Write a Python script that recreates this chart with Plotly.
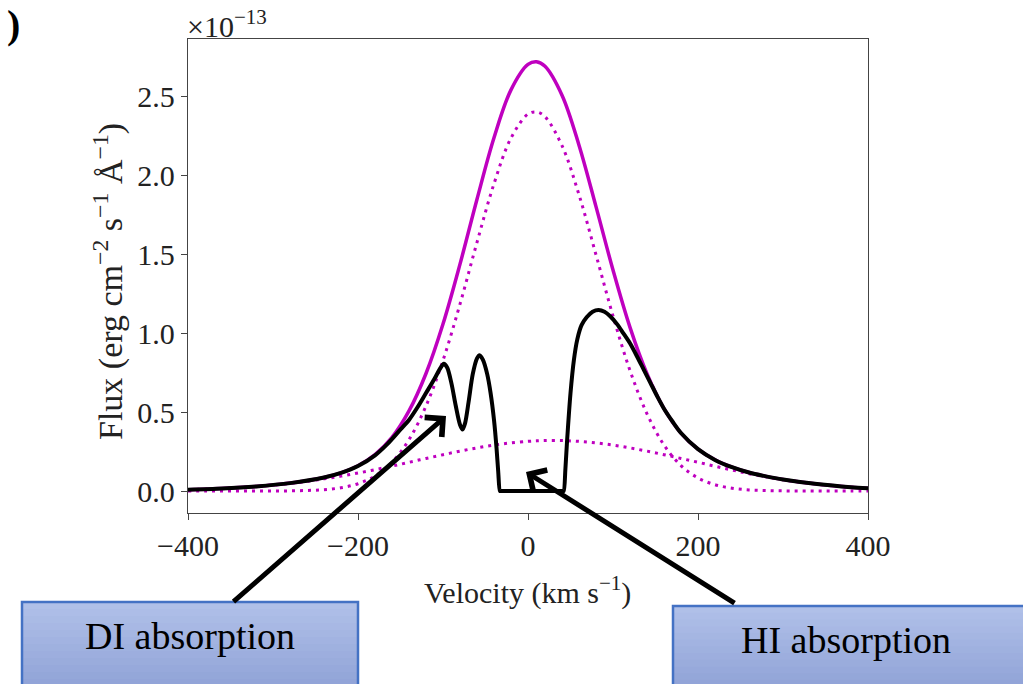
import plotly.graph_objects as go

# ---------------- data (flux in units of 1e-13 erg cm^-2 s^-1 A^-1) ----------------
vel_model = [-400, -380, -360, -340, -320, -300, -280, -260, -240, -220, -200, -180,
             -160, -140, -120, -100, -80, -60, -40, -20, 0, 10, 20, 40, 60, 80, 100,
             120, 140, 160, 180, 200, 220, 240, 260, 280, 300, 320, 340, 360, 380, 400]

flux_total = [0.0087, 0.0120, 0.0164, 0.0221, 0.0294, 0.0385, 0.0502, 0.0653, 0.0858,
              0.1152, 0.1601, 0.2305, 0.340, 0.507, 0.744, 1.057, 1.436, 1.847, 2.236,
              2.539, 2.700, 2.717, 2.688, 2.505, 2.189, 1.800, 1.399, 1.036, 0.742,
              0.521, 0.367, 0.265, 0.197, 0.151, 0.117, 0.093, 0.073, 0.0573, 0.0441,
              0.033, 0.024, 0.017]

flux_narrow = [0.0, 0.0, 0.0, 0.0, 0.0001, 0.0004, 0.0012, 0.0034, 0.0087, 0.0208,
               0.0462, 0.0953, 0.182, 0.325, 0.538, 0.827, 1.183, 1.574, 1.945, 2.234,
               2.386, 2.399, 2.369, 2.186, 1.875, 1.495, 1.108, 0.763, 0.489, 0.291,
               0.161, 0.083, 0.040, 0.018, 0.007, 0.003, 0.001, 0.0003, 0.0001, 0.0,
               0.0, 0.0]

flux_broad = [0.0087, 0.0120, 0.0164, 0.0221, 0.0293, 0.0381, 0.0490, 0.0619, 0.0771,
              0.0944, 0.1139, 0.1352, 0.1581, 0.1820, 0.2062, 0.2300, 0.2526, 0.2732,
              0.2908, 0.3048, 0.3144, 0.3175, 0.3194, 0.3194, 0.3144, 0.3048, 0.2908,
              0.2732, 0.2526, 0.2300, 0.2062, 0.1820, 0.1570, 0.1330, 0.1100, 0.0900,
              0.0720, 0.0570, 0.0440, 0.0330, 0.0240, 0.0170]

vel_obs = [-400, -360, -320, -280, -240, -220, -200, -180, -165, -150, -140, -130,
           -120, -110, -104, -99, -95, -90, -85, -80, -77, -74, -70, -65, -60, -57,
           -53, -48, -44, -40, -37, -35, -33, -32, 0, 41, 42, 44, 46, 50, 54, 58, 63,
           69, 76, 83, 90, 97, 105, 112, 120, 128, 136, 144, 152, 160, 170, 180, 200,
           220, 240, 260, 280, 300, 340, 380, 400]

flux_obs = [0.0087, 0.0164, 0.0294, 0.0502, 0.0858, 0.1150, 0.158, 0.226, 0.30, 0.39,
            0.45, 0.53, 0.62, 0.71, 0.77, 0.805, 0.78, 0.68, 0.54, 0.42, 0.39, 0.43,
            0.56, 0.74, 0.84, 0.86, 0.83, 0.74, 0.62, 0.45, 0.27, 0.12, 0.0, 0.0, 0.0,
            0.0, 0.0, 0.14, 0.32, 0.62, 0.83, 0.96, 1.05, 1.10, 1.135, 1.146, 1.135,
            1.105, 1.055, 1.00, 0.935, 0.855, 0.77, 0.685, 0.600, 0.521, 0.44, 0.367,
            0.265, 0.197, 0.151, 0.117, 0.093, 0.073, 0.0441, 0.024, 0.017]

x_ticks = [-400, -200, 0, 200, 400]
x_tick_labels = ["\u2212400", "\u2212200", "0", "200", "400"]
y_ticks = [0.0, 0.5, 1.0, 1.5, 2.0, 2.5]
y_tick_labels = ["0.0", "0.5", "1.0", "1.5", "2.0", "2.5"]

# ---------------- figure ----------------
W, H = 1023, 684
L, R, T, B = 188, 155, 39, 171
PW, PH = W - L - R, H - T - B

def px(xp):
    return (xp - L) / PW

def py(yp):
    return (H - B - yp) / PH

MAG = "#BF00BF"
FONT = "Liberation Serif"

fig = go.Figure()
fig.add_trace(go.Scatter(x=vel_model, y=flux_narrow, mode="lines",
                         line=dict(color=MAG, width=3, dash="3px,5px", shape="spline"),
                         hoverinfo="skip"))
fig.add_trace(go.Scatter(x=vel_model, y=flux_broad, mode="lines",
                         line=dict(color=MAG, width=3, dash="3px,5px", shape="spline"),
                         hoverinfo="skip"))
fig.add_trace(go.Scatter(x=vel_model, y=flux_total, mode="lines",
                         line=dict(color=MAG, width=3.5, shape="spline"),
                         hoverinfo="skip"))
fig.add_trace(go.Scatter(x=vel_obs, y=flux_obs, mode="lines",
                         line=dict(color="black", width=4, shape="spline", smoothing=0.8),
                         hoverinfo="skip"))

axis_common = dict(showline=True, mirror=True, linecolor="#444", linewidth=1.3,
                   ticks="outside", ticklen=6, tickwidth=1.2, tickcolor="#444",
                   showgrid=False, zeroline=False,
                   tickfont=dict(family=FONT, size=30, color="#222"))

fig.update_layout(
    width=W, height=H,
    margin=dict(l=L, r=R, t=T, b=B),
    paper_bgcolor="white", plot_bgcolor="white",
    showlegend=False,
    xaxis=dict(range=[-400, 400], tickvals=x_ticks, ticktext=x_tick_labels, **axis_common),
    yaxis=dict(range=[-0.139, 2.861], tickvals=y_ticks, ticktext=y_tick_labels, **axis_common),
)

# ---------------- boxes (gradient by overlapping bands) ----------------
def grad_box(x0p, x1p, y0p, y1p, n=14):
    top = (0xB0, 0xC0, 0xE8)
    bot = (0x8C, 0x9F, 0xD5)
    for i in range(n):
        t = i / (n - 1)
        c = tuple(int(round(top[k] + (bot[k] - top[k]) * t)) for k in range(3))
        ya = y0p + (y1p - y0p) * i / n
        yb = y0p + (y1p - y0p) * (i + 1) / n + 2
        fig.add_shape(type="rect", xref="paper", yref="paper",
                      x0=px(x0p), x1=px(x1p), y0=py(ya), y1=py(min(yb, y1p)),
                      line=dict(width=0), fillcolor="rgb(%d,%d,%d)" % c, layer="above")
    fig.add_shape(type="rect", xref="paper", yref="paper",
                  x0=px(x0p), x1=px(x1p), y0=py(y0p), y1=py(y1p),
                  line=dict(color="#4472C4", width=2.5), fillcolor="rgba(0,0,0,0)",
                  layer="above")

grad_box(22, 358, 602, 700)
grad_box(673, 1035, 606, 700)

ann = []
# arrows
ann.append(dict(x=px(446), y=py(416), xref="paper", yref="paper", text="",
                showarrow=True, arrowhead=4, arrowsize=1.0, arrowwidth=5, arrowcolor="black",
                ax=232 - 446, ay=603 - 416, axref="pixel", ayref="pixel"))
ann.append(dict(x=px(526), y=py(472), xref="paper", yref="paper", text="",
                showarrow=True, arrowhead=4, arrowsize=1.0, arrowwidth=5, arrowcolor="black",
                ax=736 - 526, ay=604 - 472, axref="pixel", ayref="pixel"))
# box texts
ann.append(dict(x=px(190), y=py(636), xref="paper", yref="paper", text="DI absorption",
                showarrow=False, xanchor="center", yanchor="middle",
                font=dict(family=FONT, size=38, color="black")))
ann.append(dict(x=px(846), y=py(640), xref="paper", yref="paper", text="HI absorption",
                showarrow=False, xanchor="center", yanchor="middle",
                font=dict(family=FONT, size=38, color="black")))
# axis titles
ann.append(dict(x=px(527), y=py(590), xref="paper", yref="paper",
                text="Velocity (km s<sup>\u22121</sup>)",
                showarrow=False, xanchor="center", yanchor="middle",
                font=dict(family=FONT, size=30, color="#222")))
ann.append(dict(x=px(108), y=py(282), xref="paper", yref="paper",
                text="Flux (erg cm<sup>\u22122</sup> s<sup>\u22121</sup> \u00c5<sup>\u22121</sup>)",
                showarrow=False, textangle=-90, xanchor="center", yanchor="middle",
                font=dict(family=FONT, size=34, color="#222")))
# offset text
ann.append(dict(x=px(185), y=py(24), xref="paper", yref="paper",
                text="\u00d710<sup>\u221213</sup>",
                showarrow=False, xanchor="left", yanchor="middle",
                font=dict(family=FONT, size=30, color="#222")))
# panel label remnant
ann.append(dict(x=px(13), y=py(25), xref="paper", yref="paper", text="<b>)</b>",
                showarrow=False, xanchor="center", yanchor="middle",
                font=dict(family=FONT, size=40, color="black")))

fig.update_layout(annotations=ann)

fig.write_html("out.html")
